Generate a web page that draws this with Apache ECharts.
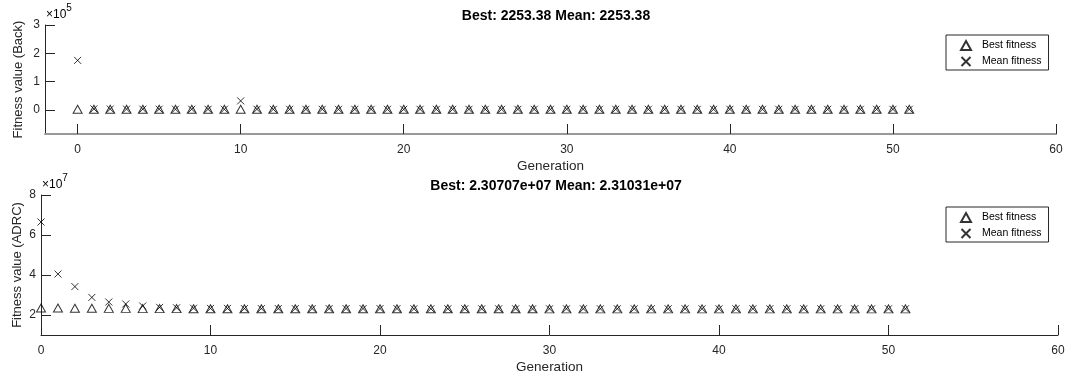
<!DOCTYPE html>
<html>
<head>
<meta charset="utf-8">
<script src="https://cdn.jsdelivr.net/npm/echarts@6/dist/echarts.min.js"></script>
<style>
  html, body { margin: 0; padding: 0; background: #fff; }
  #chart { width: 1070px; height: 378px; }
</style>
</head>
<body>
<div id="chart"></div>
<script>
// generations 0..51
const generations = [0,1,2,3,4,5,6,7,8,9,10,11,12,13,14,15,16,17,18,19,20,21,22,23,24,25,
  26,27,28,29,30,31,32,33,34,35,36,37,38,39,40,41,42,43,44,45,46,47,48,49,50,51];

// upper plot (Back)
const backBest = [2253.38,2253.38,2253.38,2253.38,2253.38,2253.38,2253.38,2253.38,2253.38,2253.38,
  2253.38,2253.38,2253.38,2253.38,2253.38,2253.38,2253.38,2253.38,2253.38,2253.38,
  2253.38,2253.38,2253.38,2253.38,2253.38,2253.38,2253.38,2253.38,2253.38,2253.38,
  2253.38,2253.38,2253.38,2253.38,2253.38,2253.38,2253.38,2253.38,2253.38,2253.38,
  2253.38,2253.38,2253.38,2253.38,2253.38,2253.38,2253.38,2253.38,2253.38,2253.38,
  2253.38,2253.38];
const backMean = [175000,3600,3100,2900,2700,2600,2500,2450,2400,2350,
  32000,2300,2253.38,2253.38,2253.38,2253.38,2253.38,2253.38,2253.38,2253.38,
  2253.38,2253.38,2253.38,2253.38,2253.38,2253.38,2253.38,2253.38,2253.38,2253.38,
  2253.38,2253.38,2253.38,2253.38,2253.38,2253.38,2253.38,2253.38,2253.38,2253.38,
  2253.38,2253.38,2253.38,2253.38,2253.38,2253.38,2253.38,2253.38,2253.38,2253.38,
  2253.38,2253.38];

// lower plot (ADRC)
const adrcBest = [2.35e7,2.35e7,2.34e7,2.34e7,2.33e7,2.33e7,2.32e7,2.32e7,2.32e7,2.31e7,
  2.31e7,2.31e7,2.31e7,2.31e7,2.31e7,2.31e7,2.31e7,2.31e7,2.31e7,2.31e7,
  2.31e7,2.31e7,2.31e7,2.31e7,2.31e7,2.31e7,2.31e7,2.31e7,2.31e7,2.31e7,
  2.3071e7,2.3071e7,2.3071e7,2.3071e7,2.3071e7,2.3071e7,2.3071e7,2.3071e7,2.3071e7,2.3071e7,
  2.3071e7,2.3071e7,2.3071e7,2.3071e7,2.3071e7,2.3071e7,2.3071e7,2.3071e7,2.3071e7,2.3071e7,
  2.3071e7,2.3071e7];
const adrcMean = [6.65e7,4.05e7,3.42e7,2.88e7,2.65e7,2.55e7,2.45e7,2.38e7,2.36e7,2.34e7,
  2.33e7,2.33e7,2.32e7,2.32e7,2.32e7,2.32e7,2.32e7,2.32e7,2.32e7,2.32e7,
  2.32e7,2.32e7,2.31e7,2.31e7,2.31e7,2.31e7,2.31e7,2.31e7,2.31e7,2.31e7,
  2.3103e7,2.3103e7,2.3103e7,2.3103e7,2.3103e7,2.3103e7,2.3103e7,2.3103e7,2.3103e7,2.3103e7,
  2.3103e7,2.3103e7,2.3103e7,2.3103e7,2.3103e7,2.3103e7,2.3103e7,2.3103e7,2.3103e7,2.3103e7,
  2.3103e7,2.3103e7];

const xTicks = [0, 10, 20, 30, 40, 50, 60];
const backTicks = [0, 1e5, 2e5, 3e5];
const adrcTicks = [2e7, 4e7, 6e7, 8e7];

const titles = ['Best: 2253.38 Mean: 2253.38', 'Best: 2.30707e+07 Mean: 2.31031e+07'];
const yNames = ['Fitness value (Back)', 'Fitness value (ADRC)'];
const seriesNames = ['Best fitness', 'Mean fitness'];

const FONT = '"Liberation Sans", Arial, sans-serif';
const INK = '#262626';
const crossPath = 'path://M0,0L10,10M10,0L0,10';

function pairs(vals) {
  return generations.map((g, i) => [g, vals[i]]);
}

function xAxisOpt(idx, min, lineColor) {
  return {
    type: 'value', gridIndex: idx, min: min, max: 60,
    name: 'Generation', nameLocation: 'middle', nameGap: 25,
    nameTextStyle: { fontFamily: FONT, fontSize: 13.5, color: INK },
    axisLine: { onZero: false, lineStyle: { color: lineColor, width: idx === 0 ? 2 : 1 } },
    axisTick: { inside: true, length: 10, customValues: xTicks, lineStyle: { color: INK } },
    axisLabel: { customValues: xTicks, margin: 10, fontFamily: FONT, fontSize: 12, color: INK },
    splitLine: { show: false }
  };
}

function yAxisOpt(idx, min, max, ticks, scale, gap) {
  return {
    type: 'value', gridIndex: idx, min: min, max: max,
    name: yNames[idx], nameLocation: 'middle', nameGap: gap, nameMoveOverlap: false,
    nameTextStyle: { fontFamily: FONT, fontSize: 13, color: INK },
    axisLine: { show: true, onZero: false, lineStyle: { color: INK } },
    axisTick: { show: true, inside: true, length: 10, customValues: ticks, lineStyle: { color: INK } },
    axisLabel: {
      customValues: ticks, margin: 5, fontFamily: FONT, fontSize: 12, color: INK,
      formatter: v => String(Math.round(v / scale))
    },
    splitLine: { show: false }
  };
}

function legendOpt(top) {
  return {
    data: seriesNames, orient: 'vertical', left: 946, top: top,
    padding: [5, 7, 3, 14], itemGap: 5, itemWidth: 10, itemHeight: 9,
    borderColor: INK, borderWidth: 1, borderRadius: 0, backgroundColor: '#fff',
    textStyle: { fontFamily: FONT, fontSize: 10.5, color: '#000', padding: [0, 0, 0, 6] }
  };
}

function bestSeries(idx, vals) {
  return {
    name: seriesNames[0], type: 'scatter', xAxisIndex: idx, yAxisIndex: idx,
    symbol: 'triangle', symbolSize: [9, 8],
    itemStyle: { color: 'rgba(0,0,0,0)', borderColor: '#000', borderWidth: 1 },
    data: pairs(vals), z: 3
  };
}

function meanSeries(idx, vals) {
  return {
    name: seriesNames[1], type: 'scatter', xAxisIndex: idx, yAxisIndex: idx,
    symbol: crossPath, symbolSize: 7,
    itemStyle: { color: 'rgba(0,0,0,0)', borderColor: '#000', borderWidth: 1 },
    data: pairs(vals), z: 4
  };
}

function expLabel(x, y, exp) {
  return {
    type: 'text', left: x, top: y,
    style: {
      text: '{a|×10}{b|' + exp + '}',
      rich: {
        a: { fontFamily: FONT, fontSize: 12, color: INK, padding: [6, 0, 0, 0] },
        b: { fontFamily: FONT, fontSize: 10, color: INK, verticalAlign: 'top' }
      }
    }
  };
}

const chart = echarts.init(document.getElementById('chart'));
chart.setOption({
  animation: false,
  backgroundColor: '#fff',
  title: [
    { text: titles[0], left: 551, top: 4, textAlign: 'center',
      textStyle: { fontFamily: FONT, fontSize: 14, fontWeight: 'bold', color: '#000' } },
    { text: titles[1], left: 551, top: 174, textAlign: 'center',
      textStyle: { fontFamily: FONT, fontSize: 14, fontWeight: 'bold', color: '#000' } }
  ],
  legend: [legendOpt(35), legendOpt(207)],
  grid: [
    { left: 45, top: 25, width: 1011, height: 109, outerBoundsMode: 'none' },
    { left: 41, top: 195, width: 1017, height: 140, outerBoundsMode: 'none' }
  ],
  xAxis: [xAxisOpt(0, -2, '#999'), xAxisOpt(1, 0, INK)],
  yAxis: [
    yAxisOpt(0, -0.85e5, 3e5, backTicks, 1e5, 20),
    yAxisOpt(1, 1e7, 8e7, adrcTicks, 1e7, 17)
  ],
  graphic: [expLabel(46, 3, '5'), expLabel(42, 173, '7')],
  series: [
    bestSeries(0, backBest), meanSeries(0, backMean),
    bestSeries(1, adrcBest), meanSeries(1, adrcMean)
  ]
});
</script>
</body>
</html>
